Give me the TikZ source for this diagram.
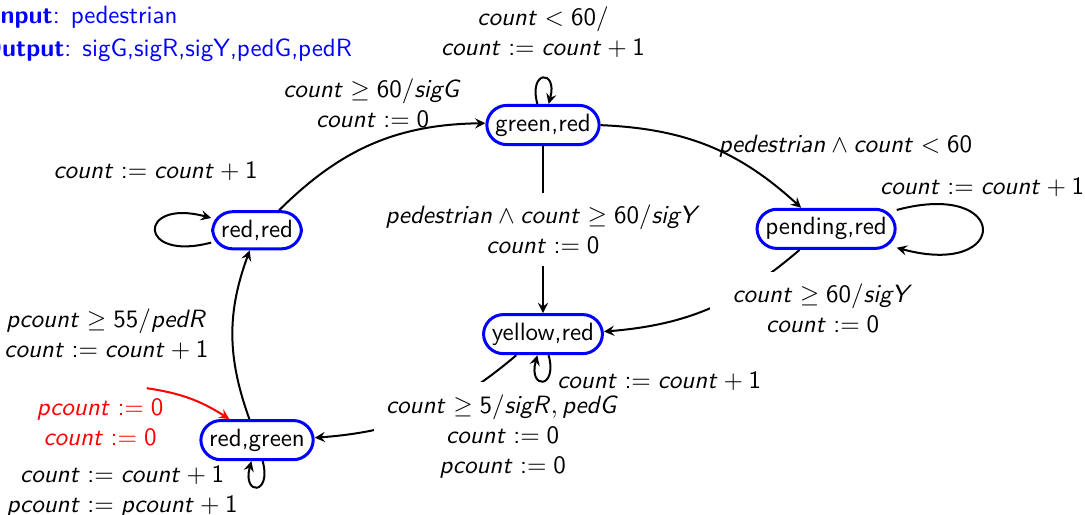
\documentclass[tikz,border=0pt]{standalone}
\usepackage{tikz}
\usetikzlibrary{positioning,arrows}
\colorlet{stateblue}{blue}
\colorlet{initred}{red}
% sans serif maths, slanted letters
\DeclareSymbolFont{sfletters}{OT1}{cmss}{m}{sl}
\SetSymbolFont{operators}{normal}{OT1}{cmss}{m}{n}
\makeatletter
\@tempcnta=`a
\loop \mathcode\@tempcnta=\numexpr"7000+\symsfletters*"100+\@tempcnta\relax
  \ifnum\@tempcnta<`z \advance\@tempcnta\@ne \repeat
\@tempcnta=`A
\loop \mathcode\@tempcnta=\numexpr"7000+\symsfletters*"100+\@tempcnta\relax
  \ifnum\@tempcnta<`Z \advance\@tempcnta\@ne \repeat
\makeatother

\begin{document}
\begin{tikzpicture}[on grid, >=stealth, thick, font=\sffamily,
    state/.style = {draw=stateblue, very thick, rounded corners=8pt},
    lbl/.style = {align=center},
    cover/.style = {fill=white, inner sep=5pt},
    io/.style = {text=stateblue, anchor=base west}]
		\useasboundingbox (-217.2pt,-156pt) rectangle (216.8pt,50pt);
		\node[state] (gr) {green,red};
		\node[state] (rr) [below left=1.48cm and 4.02cm of gr] {red,red};
		\node[state] (pr) [below right=1.46cm and 3.98cm of gr] {pending,red};
		\node[state] (yr) [below=2.94cm of gr] {yellow,red};
		\node[state] (rg) [below=2.95cm of rr] {red,green};
		\node[io] (inp) at (-224pt,40.4pt) {\textbf{Input}: pedestrian};
		\node[io] (outp) at (-228pt,27.2pt) {\textbf{Output}: sigG,sigR,sigY,pedG,pedR};
		\coordinate[above left=0.73cm and 1.55cm of rg] (start);
		\node[lbl, text=initred] (initlbl) [above left=7.2pt and 62.8pt of rg] {$pcount := 0$\\$count := 0$};
		
		\draw[->, initred] (start) to[bend left=12] (rg);
		
		\draw[->] (rr) to[bend left=22] node[midway, above=3pt, lbl] {$count \geq 60/sigG$\\$count := 0$} (gr);
		\draw[->] (gr) to[loop above] node[above=4.5pt, lbl] {$count < 60/$\\$count := count + 1$} (gr);
		\draw[->] (gr) to[bend left=20] node[midway, right] {$pedestrian \wedge count < 60$} (pr);
		\draw[->] (gr) -- node[midway, cover, lbl] {$pedestrian \wedge count \geq 60/sigY$\\$count := 0$} (yr);
		
		\draw[->] (pr) to[loop right] node[above=9pt] {$count := count + 1$} (pr);
		\draw[->] (pr) to[bend left=18] node[midway, right, cover, inner xsep=9pt, lbl] {$count \geq 60/sigY$\\$count := 0$} (yr);
		
		\draw[->] (yr) to[bend left=18] node[pos=.3, anchor=north, xshift=17pt, yshift=6pt, cover, lbl] {$count \geq 5/sigR, pedG$\\$count := 0$\\$pcount := 0$} (rg);
		\draw[->] (yr) to[loop below] node[right=2pt] {$count := count + 1$} (yr);
		
		\draw[->] (rg) to[loop below] node[left=4pt, yshift=-2pt, lbl] {$count := count + 1$\\$pcount := pcount + 1$} (rg);
		\draw[->] (rg) to[bend left=20] node[midway, left=6pt, lbl] {$pcount \geq 55/pedR$\\$count := count + 1$} (rr);
		
		\draw[->] (rr) to[loop left] node[above=16pt] {$count := count + 1$} (rr);
	\end{tikzpicture}
\end{document}
